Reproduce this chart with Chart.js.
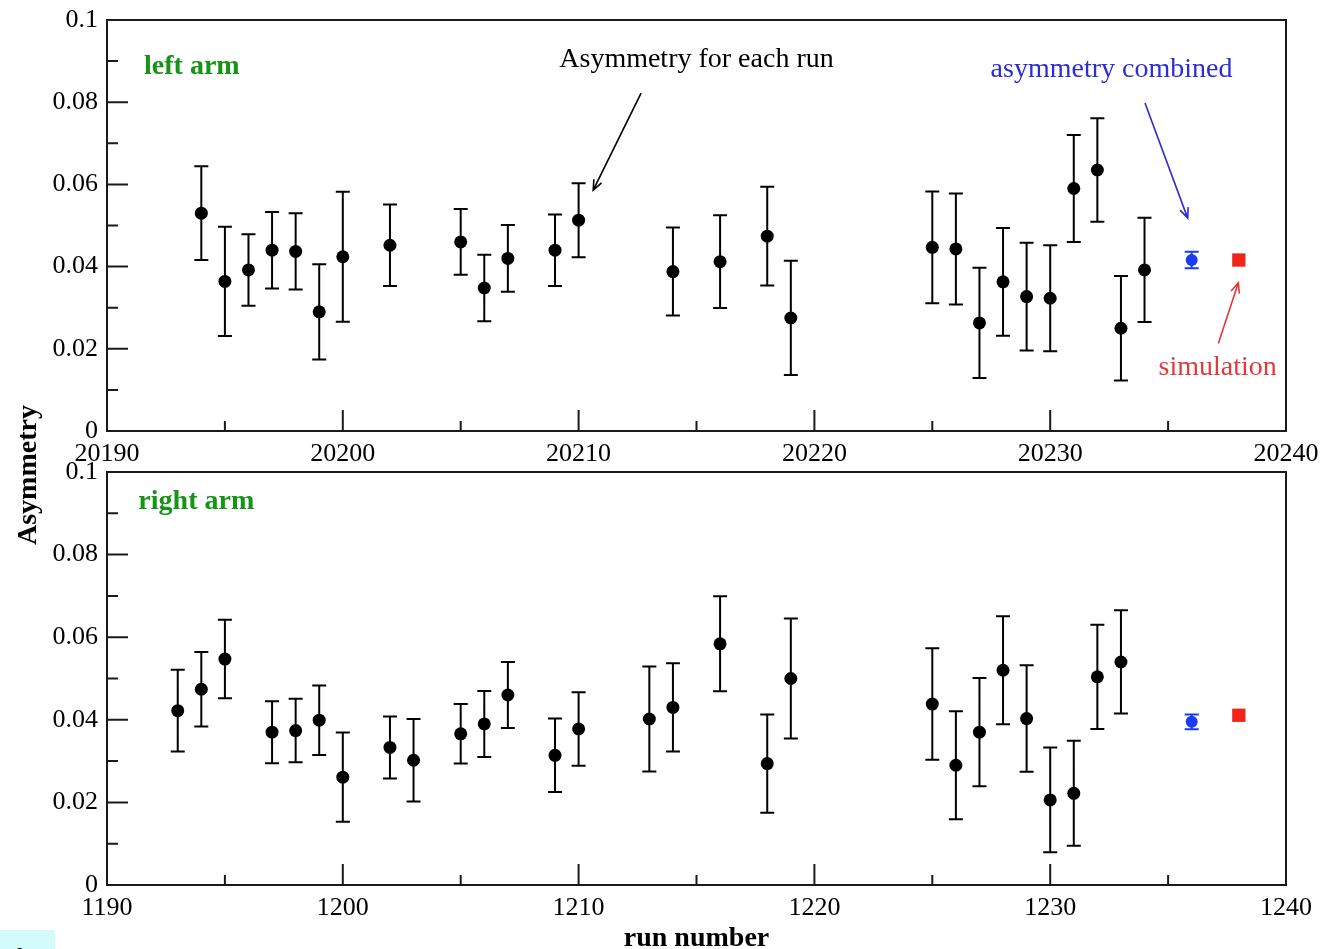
<!DOCTYPE html>
<html>
<head>
<meta charset="utf-8">
<script src="https://cdn.jsdelivr.net/npm/chart.js@4"></script>
<style>
  html, body { margin: 0; padding: 0; background: #fff; }
  body { width: 1323px; height: 949px; overflow: hidden; position: relative; }
  canvas { position: absolute; left: 0; }
  #topChart { top: 0; }
  #bottomChart { top: 460px; }
  #ylabel {
    position: absolute; left: 27px; top: 475px;
    transform: translate(-50%, -50%) rotate(-90deg);
    font: bold 28px 'Liberation Serif', serif; color: #000; white-space: nowrap;
  }
  #corner { position: absolute; left: 0; top: 930px; width: 55px; height: 19px; background: #d2fcfc; overflow: hidden; }
  #corner span { position: absolute; left: 15px; top: 14px; font: italic 28px 'Liberation Serif', serif; line-height: 28px; }
</style>
</head>
<body>
<canvas id="topChart" width="1323" height="475"></canvas>
<canvas id="bottomChart" width="1323" height="500"></canvas>
<div id="ylabel">Asymmetry</div>
<div id="corner"><span>b</span></div>
<script>
// left arm: asymmetry per run
const leftRuns = [20194, 20195, 20196, 20197, 20198, 20199, 20200, 20202, 20205, 20206, 20207, 20209, 20210,
  20214, 20216, 20218, 20219, 20225, 20226, 20227, 20228, 20229, 20230, 20231, 20232, 20233, 20234];
const leftAsym = [0.0530, 0.0364, 0.0392, 0.0440, 0.0437, 0.0290, 0.0424, 0.0452, 0.0460, 0.0348, 0.0420, 0.0440, 0.0513,
  0.0388, 0.0412, 0.0474, 0.0275, 0.0447, 0.0443, 0.0263, 0.0363, 0.0327, 0.0323, 0.0590, 0.0635, 0.0250, 0.0392];
const leftErr = [0.0114, 0.0133, 0.0087, 0.0093, 0.0093, 0.0116, 0.0158, 0.0099, 0.0080, 0.0081, 0.0081, 0.0087, 0.0090,
  0.0107, 0.0113, 0.0120, 0.0139, 0.0136, 0.0135, 0.0134, 0.0131, 0.0131, 0.0129, 0.0130, 0.0126, 0.0127, 0.0127];
const leftCombinedRun = 20236, leftCombined = 0.0416, leftCombinedErr = 0.0020;
const leftSimRun = 20238, leftSim = 0.0416;

// right arm: asymmetry per run
const rightRuns = [1193, 1194, 1195, 1197, 1198, 1199, 1200, 1202, 1203, 1205, 1206, 1207, 1209, 1210,
  1213, 1214, 1216, 1218, 1219, 1225, 1226, 1227, 1228, 1229, 1230, 1231, 1232, 1233];
const rightAsym = [0.0422, 0.0474, 0.0547, 0.0370, 0.0374, 0.0399, 0.0261, 0.0333, 0.0302, 0.0366, 0.0390, 0.0460, 0.0314, 0.0378,
  0.0402, 0.0430, 0.0584, 0.0294, 0.0500, 0.0438, 0.0290, 0.0370, 0.0520, 0.0403, 0.0206, 0.0222, 0.0504, 0.0540];
const rightErr = [0.0099, 0.0090, 0.0095, 0.0075, 0.0077, 0.0084, 0.0108, 0.0075, 0.0100, 0.0072, 0.0080, 0.0080, 0.0089, 0.0089,
  0.0127, 0.0107, 0.0115, 0.0119, 0.0145, 0.0135, 0.0131, 0.0131, 0.0131, 0.0129, 0.0127, 0.0127, 0.0126, 0.0125];
const rightCombinedRun = 1236, rightCombined = 0.0395, rightCombinedErr = 0.0018;
const rightSimRun = 1238, rightSim = 0.0411;

const serif = "'Liberation Serif', 'Times New Roman', serif";
const green = '#169416';
const blueText = '#2b2bd8';
const bluePoint = '#1c3cf2';
const redText = '#e03a3a';
const redPoint = '#f02418';

// text notes and arrows, placed in data coordinates
const leftTexts = [
  { text: 'left arm', x: 20191.57, y: 0.0869, align: 'left', font: 'bold 28px ' + serif, color: green },
  { text: 'Asymmetry for each run', x: 20215.0, y: 0.0886, align: 'center', font: '28px ' + serif, color: '#000' },
  { text: 'asymmetry combined', x: 20232.6, y: 0.0862, align: 'center', font: '28px ' + serif, color: blueText },
  { text: 'simulation', x: 20237.1, y: 0.0136, align: 'center', font: '28px ' + serif, color: redText }
];
const leftArrows = [
  { from: [20212.65, 0.0822], to: [20210.62, 0.0586], color: '#000' },
  { from: [20234.02, 0.0798], to: [20235.83, 0.0518], color: blueText },
  { from: [20237.13, 0.0213], to: [20237.98, 0.0361], color: redText }
];
const rightTexts = [
  { text: 'right arm', x: 1191.33, y: 0.0910, align: 'left', font: 'bold 28px ' + serif, color: green }
];
const rightArrows = [];

// box around the plot and inward tick marks
const framePlugin = {
  id: 'frame',
  beforeDatasetsDraw(chart) {
    const { ctx, chartArea: a, scales: { x, y } } = chart;
    ctx.save();
    ctx.strokeStyle = '#1a1a1a';
    ctx.lineWidth = 2;
    ctx.strokeRect(a.left, a.top, a.right - a.left, a.bottom - a.top);
    ctx.beginPath();
    x.ticks.forEach(t => {
      const px = x.getPixelForValue(t.value);
      if (px <= a.left + 1 || px >= a.right - 1) return;
      const len = t.value % 10 === 0 ? 21 : 10;
      ctx.moveTo(px, a.bottom);
      ctx.lineTo(px, a.bottom - len);
    });
    y.ticks.forEach(t => {
      const py = y.getPixelForValue(t.value);
      if (py <= a.top + 1 || py >= a.bottom - 1) return;
      const len = Math.round(t.value * 100) % 2 === 0 ? 21 : 11;
      ctx.moveTo(a.left, py);
      ctx.lineTo(a.left + len, py);
    });
    ctx.stroke();
    ctx.restore();
  }
};

const errorBarPlugin = {
  id: 'errorBars',
  beforeDatasetsDraw(chart) {
    const { ctx, scales: { x, y } } = chart;
    chart.data.datasets.forEach(ds => {
      if (!ds.errorBars) return;
      ctx.save();
      ctx.strokeStyle = ds.borderColor;
      ctx.lineWidth = 2;
      ctx.beginPath();
      ds.data.forEach((p, i) => {
        const e = ds.errorBars[i];
        const px = x.getPixelForValue(p.x);
        const top = y.getPixelForValue(p.y + e);
        const bot = y.getPixelForValue(p.y - e);
        const c = ds.capHalf;
        ctx.moveTo(px, top); ctx.lineTo(px, bot);
        ctx.moveTo(px - c, top); ctx.lineTo(px + c, top);
        ctx.moveTo(px - c, bot); ctx.lineTo(px + c, bot);
      });
      ctx.stroke();
      ctx.restore();
    });
  }
};

function notesPlugin(texts, arrows) {
  return {
    id: 'notes',
    afterDatasetsDraw(chart) {
      const { ctx, scales: { x, y } } = chart;
      ctx.save();
      arrows.forEach(a => {
        const x0 = x.getPixelForValue(a.from[0]), y0 = y.getPixelForValue(a.from[1]);
        const x1 = x.getPixelForValue(a.to[0]), y1 = y.getPixelForValue(a.to[1]);
        const ang = Math.atan2(y1 - y0, x1 - x0);
        ctx.strokeStyle = a.color;
        ctx.lineWidth = 1.6;
        ctx.beginPath();
        ctx.moveTo(x0, y0); ctx.lineTo(x1, y1);
        ctx.moveTo(x1 - 11 * Math.cos(ang - 0.4), y1 - 11 * Math.sin(ang - 0.4));
        ctx.lineTo(x1, y1);
        ctx.lineTo(x1 - 11 * Math.cos(ang + 0.4), y1 - 11 * Math.sin(ang + 0.4));
        ctx.stroke();
      });
      texts.forEach(t => {
        ctx.font = t.font;
        ctx.fillStyle = t.color;
        ctx.textAlign = t.align;
        ctx.textBaseline = 'alphabetic';
        ctx.fillText(t.text, x.getPixelForValue(t.x), y.getPixelForValue(t.y));
      });
      ctx.restore();
    }
  };
}

function yLabel(v) {
  const k = Math.round(v * 100);
  if (k % 2 !== 0) return '';
  return String(parseFloat((k / 100).toFixed(2)));
}

function buildChart(id, o) {
  return new Chart(document.getElementById(id), {
    type: 'scatter',
    data: {
      datasets: [
        {
          label: 'runs',
          data: o.runs.map((r, i) => ({ x: r, y: o.asym[i] })),
          errorBars: o.err, capHalf: 7,
          backgroundColor: '#000', borderColor: '#000',
          pointRadius: 6.5, pointBorderWidth: 0, pointHoverRadius: 6.5
        },
        {
          label: 'combined',
          data: [{ x: o.combRun, y: o.comb }],
          errorBars: [o.combErr], capHalf: 7,
          backgroundColor: bluePoint, borderColor: bluePoint,
          pointRadius: 6, pointBorderWidth: 0
        },
        {
          label: 'simulation',
          data: [{ x: o.simRun, y: o.sim }],
          backgroundColor: redPoint, borderColor: redPoint,
          pointStyle: 'rect', pointRadius: 9.4, pointBorderWidth: 0
        }
      ]
    },
    options: {
      responsive: false,
      animation: false,
      devicePixelRatio: 1,
      events: [],
      layout: { padding: { top: o.padTop, right: 37, left: 0, bottom: 0 } },
      plugins: { legend: { display: false }, tooltip: { enabled: false } },
      scales: {
        x: {
          type: 'linear', min: o.xMin, max: o.xMin + 50,
          grid: { display: false, drawTicks: false }, border: { display: false },
          ticks: {
            stepSize: 5, autoSkip: false, maxRotation: 0, padding: 8, color: '#000',
            font: { family: serif, size: 26 },
            callback: v => (v % 10 === 0 ? String(v) : '')
          },
          title: {
            display: !!o.xTitle, text: o.xTitle || '', color: '#000',
            font: { family: serif, size: 28, weight: 'bold' },
            padding: { top: 0, bottom: 4 }
          },
          afterFit: s => { s.height = o.xHeight; s.paddingLeft = 0; s.paddingRight = 0; }
        },
        y: {
          type: 'linear', min: 0, max: 0.1,
          grid: { display: false, drawTicks: false }, border: { display: false },
          ticks: {
            stepSize: 0.01, autoSkip: false, padding: 9, color: '#000',
            font: { family: serif, size: 26 },
            callback: yLabel
          },
          afterFit: s => { s.width = 107; s.paddingTop = 0; s.paddingBottom = 0; }
        }
      }
    },
    plugins: [framePlugin, errorBarPlugin, notesPlugin(o.texts, o.arrows)]
  });
}

buildChart('topChart', {
  runs: leftRuns, asym: leftAsym, err: leftErr,
  combRun: leftCombinedRun, comb: leftCombined, combErr: leftCombinedErr,
  simRun: leftSimRun, sim: leftSim,
  xMin: 20190, padTop: 20, xHeight: 44,
  texts: leftTexts, arrows: leftArrows
});

buildChart('bottomChart', {
  runs: rightRuns, asym: rightAsym, err: rightErr,
  combRun: rightCombinedRun, comb: rightCombined, combErr: rightCombinedErr,
  simRun: rightSimRun, sim: rightSim,
  xMin: 1190, padTop: 12, xHeight: 75, xTitle: 'run number',
  texts: rightTexts, arrows: rightArrows
});
</script>
</body>
</html>
